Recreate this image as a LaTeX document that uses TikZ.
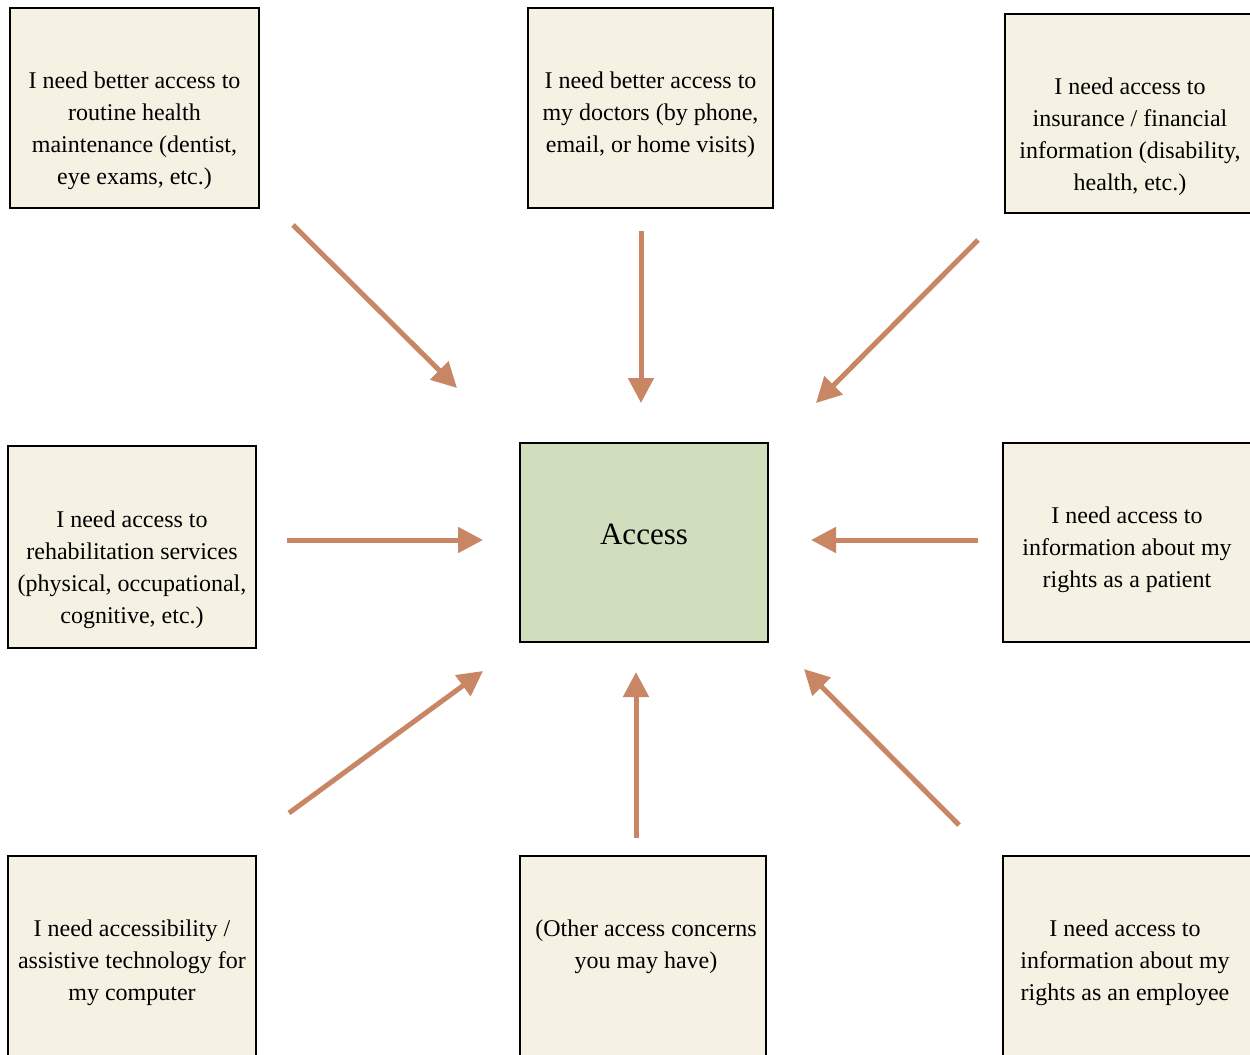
\documentclass[tikz,border=0pt]{standalone}
\usepackage{fontspec}
\setmainfont{Liberation Serif}
\usetikzlibrary{arrows.meta}
\definecolor{boxfill}{RGB}{245,242,228}
\definecolor{hubfill}{RGB}{208,222,190}
\definecolor{arrowcol}{RGB}{200,134,100}
\begin{document}
\begin{tikzpicture}[x=0.5pt,y=-0.5pt,
  card/.style={draw=black,line width=1.2pt,fill=boxfill},
  hub/.style={draw=black,line width=1.2pt,fill=hubfill},
  cardtext/.style={anchor=base,align=center,inner sep=0pt,
    font=\fontsize{12pt}{16pt}\selectfont},
  feed/.style={draw=arrowcol,line width=2.5pt,
    -{Triangle[length=12.5pt,width=12.5pt]}}]
\useasboundingbox (0,0) rectangle (1250,1055);

% concern boxes (text anchored at the baseline of its last line)
\path[card] (10,8) rectangle (259,208);
\node[cardtext] (t1) at (134.5,184) {I need better access to\\routine health\\maintenance (dentist,\\eye exams, etc.)};

\path[card] (528,8) rectangle (773,208);
\node[cardtext] (t2) at (650.5,152) {I need better access to\\my doctors (by phone,\\email, or home visits)};

\path[card] (1005,14) rectangle (1255,213);
\node[cardtext] (t3) at (1130,190) {I need access to\\insurance / financial\\information (disability,\\health, etc.)};

\path[card] (8,446) rectangle (256,648);
\node[cardtext] (t4) at (132,623) {I need access to\\rehabilitation services\\(physical, occupational,\\cognitive, etc.)};

\path[card] (1003,443) rectangle (1253,642);
\node[cardtext] (t6) at (1127,587) {I need access to\\information about my\\rights as a patient};

\path[card] (8,856) rectangle (256,1060);
\node[cardtext] (t7) at (132,1000) {I need accessibility /\\assistive technology for\\my computer};

\path[card] (520,856) rectangle (766,1060);
\node[cardtext] (t8) at (646,968) {(Other access concerns\\you may have)};

\path[card] (1003,856) rectangle (1253,1060);
\node[cardtext] (t9) at (1125,1000) {I need access to\\information about my\\rights as an employee};

% central box
\path[hub] (520,443) rectangle (768,642);
\node[anchor=base,inner sep=0pt,font=\fontsize{15.5pt}{18pt}\selectfont] (hub) at (644,544) {Access};

% arrow end points
\coordinate (a1s) at (293,225); \coordinate (a1e) at (457,388);
\coordinate (a2s) at (641,231); \coordinate (a2e) at (641,403);
\coordinate (a3s) at (978,240); \coordinate (a3e) at (816,403);
\coordinate (a4s) at (287,540); \coordinate (a4e) at (483,540);
\coordinate (a6s) at (978,540); \coordinate (a6e) at (811,540);
\coordinate (a7s) at (289,813); \coordinate (a7e) at (483,671);
\coordinate (a8s) at (636,838); \coordinate (a8e) at (636,672);
\coordinate (a9s) at (959,825); \coordinate (a9e) at (804,669);

% arrows pointing to the central box
\draw[feed] (a1s) -- (a1e);
\draw[feed] (a2s) -- (a2e);
\draw[feed] (a3s) -- (a3e);
\draw[feed] (a4s) -- (a4e);
\draw[feed] (a6s) -- (a6e);
\draw[feed] (a7s) -- (a7e);
\draw[feed] (a8s) -- (a8e);
\draw[feed] (a9s) -- (a9e);
\end{tikzpicture}
\end{document}
